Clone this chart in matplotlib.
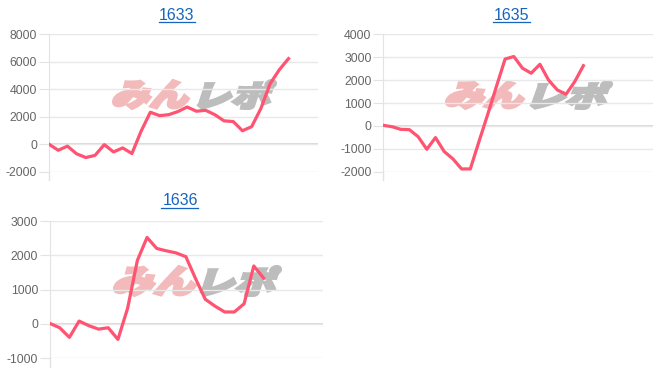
import numpy as np
import matplotlib
matplotlib.use('Agg')
import matplotlib.pyplot as plt
from matplotlib.textpath import TextPath
from matplotlib.patches import PathPatch
from matplotlib.font_manager import FontProperties
from matplotlib.transforms import Affine2D, IdentityTransform
from matplotlib.lines import Line2D

W, H = 666, 368

# data
titles = ['1633', '1635', '1636']
s1633 = [0, -440, -140, -700, -970, -810, -30, -560, -270, -680, 950, 2330,
         2080, 2150, 2380, 2710, 2400, 2470, 2150, 1700, 1650, 980, 1280,
         2600, 4400, 5420, 6230]
s1635 = [25, -35, -150, -165, -470, -1020, -510, -1120, -1440, -1880, -1880,
         -680, 500, 1720, 2920, 3030, 2520, 2300, 2690, 2000, 1570, 1380,
         1930, 2630]
s1636 = [15, -110, -390, 85, -50, -150, -110, -450, 460, 1850, 2520, 2200,
         2130, 2070, 1960, 1320, 720, 520, 350, 350, 590, 1690, 1340]
yticks1633 = [-2000, 0, 2000, 4000, 6000, 8000]
yticks1635 = [-2000, -1000, 0, 1000, 2000, 3000, 4000]
yticks1636 = [-1000, 0, 1000, 2000, 3000]

plt.rcParams['font.family'] = ['Liberation Sans', 'DejaVu Sans']
plt.rcParams['axes.unicode_minus'] = False

fig = plt.figure(figsize=(W / 100, H / 100), dpi=100)

def px_box(l, t, r, b):
    return [l / W, 1 - b / H, (r - l) / W, (b - t) / H]

#watermark text squeezed into a pixel box, slanted and fattened
def stamp(txt, l, t, r, b, color):
    fp = FontProperties(family='Noto Sans CJK JP', weight='black')
    tp = TextPath((0, 0), txt, size=100, prop=fp)
    tp = Affine2D().skew_deg(14, 0).transform_path(tp)
    ext = tp.get_extents()
    tr = (Affine2D().translate(-ext.x0, -ext.y0)
          .scale((r - l - 3) / ext.width, (b - t - 3) / ext.height)
          .translate(l + 1.5, H - b + 1.5))
    fig.add_artist(PathPatch(tr.transform_path(tp), facecolor=color,
                             edgecolor=color, lw=2.2, joinstyle='miter',
                             transform=IdentityTransform(), zorder=-1))

def title(txt, cx, cy, ul0, ul1, uly):
    fig.text(cx / W, 1 - cy / H, txt, ha='center', va='center',
             color='#1565c0', fontsize=11.5)
    fig.add_artist(Line2D([ul0 / W, ul1 / W], [1 - uly / H, 1 - uly / H],
                          color='#1565c0', lw=0.9))

def panel(box, vals, ticks, xmax):
    ax = fig.add_axes(px_box(*box))
    ax.set_facecolor('none')
    ax.plot(range(len(vals)), vals, color='#ff5372', lw=2.3, zorder=3)
    ax.set_xlim(0, xmax)
    ax.set_ylim(ticks[0], ticks[-1])
    ax.set_yticks(ticks)
    ax.set_xticks([])
    for s in ['top', 'right', 'bottom']:
        ax.spines[s].set_visible(False)
    ax.spines['left'].set_color('#e3e3e3')
    ax.yaxis.grid(True, color='#e8e8e8', lw=1)
    ax.axhline(0, color='#cfcfcf', lw=1.1, zorder=1)
    ax.tick_params(axis='y', colors='#e3e3e3', labelcolor='#666666',
                   labelsize=8.8, length=7, pad=1.5)
    ax.add_line(Line2D([0, 0], [-0.06, 0], transform=ax.transAxes,
                       color='#e3e3e3', lw=1, clip_on=False))
    return ax

panel((49, 34.3, 318, 171.7), s1633, yticks1633, 29.2)
panel((383.3, 34.3, 653, 171.7), s1635, yticks1635, 31.0)
panel((50, 221, 322.7, 358.3), s1636, yticks1636, 28.1)

title(titles[0], 177, 15, 159, 195, 22)
title(titles[1], 511.5, 15, 493, 530, 22)
title(titles[2], 180, 200.5, 161, 198, 208)

stamp('みん', 112, 79, 190, 110, '#f2baba')
stamp('レポ', 197, 79, 277, 110, '#bdbdbd')
stamp('みん', 445, 80, 525, 110, '#f2baba')
stamp('レポ', 530, 80, 613, 110, '#bdbdbd')
stamp('みん', 113, 265, 197, 297, '#f2baba')
stamp('レポ', 200, 265, 282, 297, '#bdbdbd')

fig.savefig('out.png', dpi=100)
